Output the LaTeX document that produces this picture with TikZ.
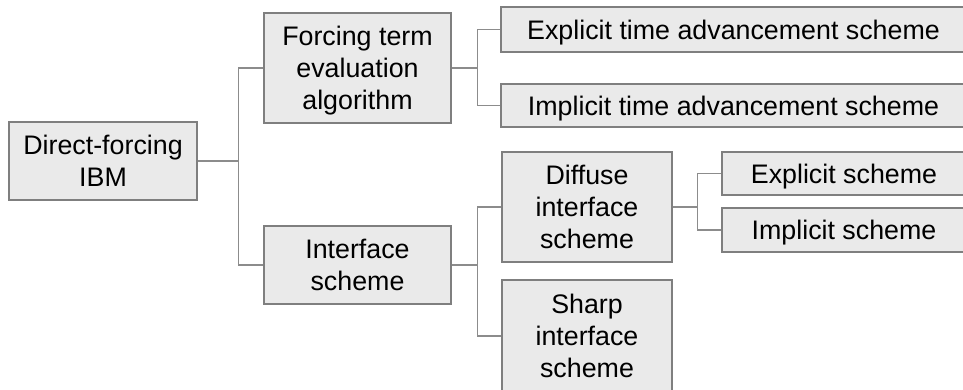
\documentclass[tikz,border=0pt]{standalone}
\usepackage{fontspec}
\setmainfont{Liberation Sans}
\usetikzlibrary{positioning}
\definecolor{boxfill}{HTML}{EAEAEA}
\definecolor{boxline}{HTML}{7F7F7F}
\definecolor{linkline}{HTML}{8C8C8C}

\begin{document}
\begin{tikzpicture}[x=1pt,y=-1pt,
    every node/.style={inner sep=0pt, align=center, text depth=0pt, font=\fontsize{26.8}{32}\selectfont},
    box/.style={draw=boxline, fill=boxfill, line width=1.3pt},
    link/.style={draw=linkline, line width=1.3pt}]
  \useasboundingbox (0,0) rectangle (963,389);
  % boxes
  \node[box, minimum width=188pt, minimum height=78pt] (root) at (103,161) {Direct-forcing\\IBM};
  \node[box, minimum width=187pt, minimum height=110pt] (force) at (357.5,68) {Forcing term\\evaluation\\algorithm};
  \node[box, minimum width=187pt, minimum height=78pt] (iface) at (357.5,265) {Interface\\scheme};
  \node[box, minimum width=465pt, minimum height=45pt] (explT) at (733.5,29.5) {Explicit time advancement scheme};
  \node[box, minimum width=465pt, minimum height=43pt] (implT) at (733.5,105.5) {Implicit time advancement scheme};
  \node[box, minimum width=170pt, minimum height=110pt] (diff) at (587,207) {Diffuse\\interface\\scheme};
  \node[box, minimum width=170pt, minimum height=112pt] (sharp) at (587,336) {Sharp\\interface\\scheme};
  \node[box, minimum width=244pt, minimum height=43pt] (explS) at (844,173.5) {Explicit scheme};
  \node[box, minimum width=244pt, minimum height=44pt] (implS) at (844,230) {Implicit scheme};
  % connectors
  \draw[link] (root.east) -- ++(41pt,0) coordinate (j1);
  \draw[link] (force.west) -| (j1) |- (iface.west);
  \draw[link] (force.east) -- ++(26pt,0) coordinate (j2);
  \draw[link] (explT.west) -| (j2) |- (implT.west);
  \draw[link] (iface.east) -- ++(26pt,0) coordinate (j3);
  \draw[link] (diff.west) -| (j3) |- (sharp.west);
  \draw[link] (diff.east) -- ++(25pt,0) coordinate (j4);
  \draw[link] (explS.west) -| (j4) |- (implS.west);
\end{tikzpicture}
\end{document}
